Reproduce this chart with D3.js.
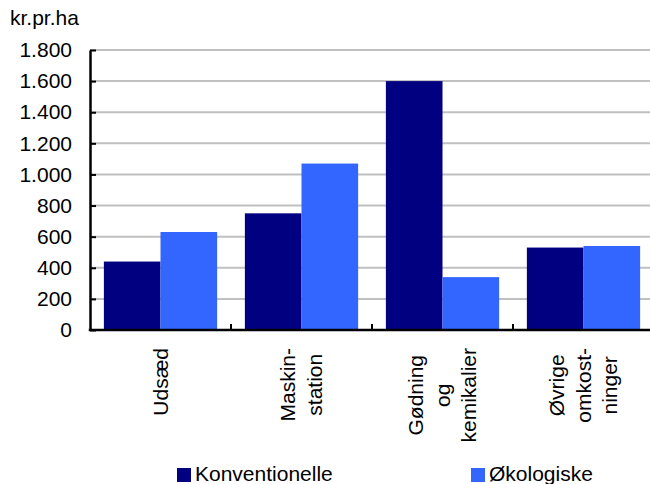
<!DOCTYPE html>
<html>
<head>
<meta charset="utf-8">
<script src="https://cdn.jsdelivr.net/npm/d3@7"></script>
<style>
  html, body { margin: 0; padding: 0; background: #fff; }
  svg { display: block; font-family: "Liberation Sans", Arial, sans-serif; }
</style>
</head>
<body>
<svg id="chart" width="650" height="484"></svg>
<script>
// data
var categories = ["Udsæd", "Maskinstation", "Gødning og kemikalier", "Øvrige omkostninger"];
var categoryLines = [["Udsæd"], ["Maskin-", "station"], ["Gødning", "og", "kemikalier"], ["Øvrige", "omkost-", "ninger"]];
var seriesNames = ["Konventionelle", "Økologiske"];
var konventionelle = [440, 750, 1600, 530];
var okologiske = [630, 1070, 340, 540];
var yTicks = [0, 200, 400, 600, 800, 1000, 1200, 1400, 1600, 1800];
var unitLabel = "kr.pr.ha";

var colors = ["#000080", "#3366ff"];
var fontSize = 21;

var plotLeft = 90, plotRight = 654, plotTop = 50, plotBottom = 330;

var chart = d3.select("#chart");

var dk = d3.formatLocale({decimal: ",", thousands: ".", grouping: [3], currency: ["", " kr"]});
var fmt = dk.format(",d");

var x = d3.scaleBand().domain(categories).range([plotLeft, plotRight]).paddingInner(0).paddingOuter(0);
var xs = d3.scaleBand().domain(seriesNames).range([0, x.bandwidth()]).paddingInner(0).paddingOuter(0.245);
var y = d3.scaleLinear().domain([0, 1800]).range([plotBottom, plotTop]);

// gridlines
chart.append("g")
    .selectAll("line")
    .data(yTicks.filter(function(d){ return d > 0; }))
    .enter().append("line")
    .attr("x1", plotLeft)
    .attr("x2", 650)
    .attr("y1", function(d){ return y(d); })
    .attr("y2", function(d){ return y(d); })
    .style("stroke", "#c0c0c0")
    .style("stroke-width", "2px");

// bars
var series = [konventionelle, okologiske];
series.forEach(function(vals, s){
    chart.append("g")
        .selectAll("rect")
        .data(vals)
        .enter().append("rect")
        .attr("x", function(d, i){ return x(categories[i]) + xs(seriesNames[s]); })
        .attr("y", function(d){ return y(d); })
        .attr("width", xs.bandwidth())
        .attr("height", function(d){ return y(0) - y(d); })
        .attr("fill", colors[s]);
});

// y axis
var yAxis = chart.append("g")
    .attr("transform", "translate(" + plotLeft + ",0)")
    .call(d3.axisLeft(y).tickValues(yTicks).tickFormat(fmt).tickSize(-6).tickSizeOuter(0).tickPadding(18));
yAxis.select(".domain").attr("stroke", "#000").attr("stroke-width", 2.5);
yAxis.selectAll(".tick line").attr("stroke", "#000").attr("stroke-width", 2);
yAxis.selectAll(".tick text")
    .attr("fill", "#000")
    .style("font-size", fontSize + "px")
    .style("font-family", "'Liberation Sans', Arial, sans-serif");

// x axis baseline and category ticks
chart.append("line")
    .attr("x1", plotLeft - 1.25)
    .attr("x2", 650)
    .attr("y1", y(0))
    .attr("y2", y(0))
    .style("stroke", "#000")
    .style("stroke-width", "2.5px");

chart.append("g")
    .selectAll("line")
    .data(categories.slice(1))
    .enter().append("line")
    .attr("x1", function(d){ return x(d); })
    .attr("x2", function(d){ return x(d); })
    .attr("y1", y(0))
    .attr("y2", y(0) - 6)
    .style("stroke", "#000")
    .style("stroke-width", "2px");

// rotated category labels
var lineGap = 26.5;
categories.forEach(function(c, ci){
    var lines = categoryLines[ci];
    var cx = x(c) + x.bandwidth() / 2;
    var g = chart.append("g");
    var texts = lines.map(function(l, i){
        var bx = cx + 7 + (i - (lines.length - 1) / 2) * lineGap;
        return g.append("text")
            .attr("text-anchor", "middle")
            .style("font-size", fontSize + "px")
            .attr("fill", "#000")
            .attr("data-bx", bx)
            .text(l);
    });
    var maxW = d3.max(texts, function(t){ return t.node().getComputedTextLength(); });
    var yc = 348 + maxW / 2;
    texts.forEach(function(t){
        t.attr("transform", "translate(" + t.attr("data-bx") + "," + yc + ") rotate(-90)");
    });
});

// unit label
chart.append("text")
    .attr("x", 10)
    .attr("y", 25)
    .style("font-size", fontSize + "px")
    .attr("fill", "#000")
    .text(unitLabel);

// legend
var legendX = [177, 471];
seriesNames.forEach(function(n, i){
    chart.append("rect")
        .attr("x", legendX[i])
        .attr("y", 468)
        .attr("width", 14)
        .attr("height", 14)
        .attr("fill", colors[i]);
    chart.append("text")
        .attr("x", legendX[i] + 18)
        .attr("y", 481)
        .style("font-size", fontSize + "px")
        .attr("fill", "#000")
        .text(n);
});
</script>
</body>
</html>
